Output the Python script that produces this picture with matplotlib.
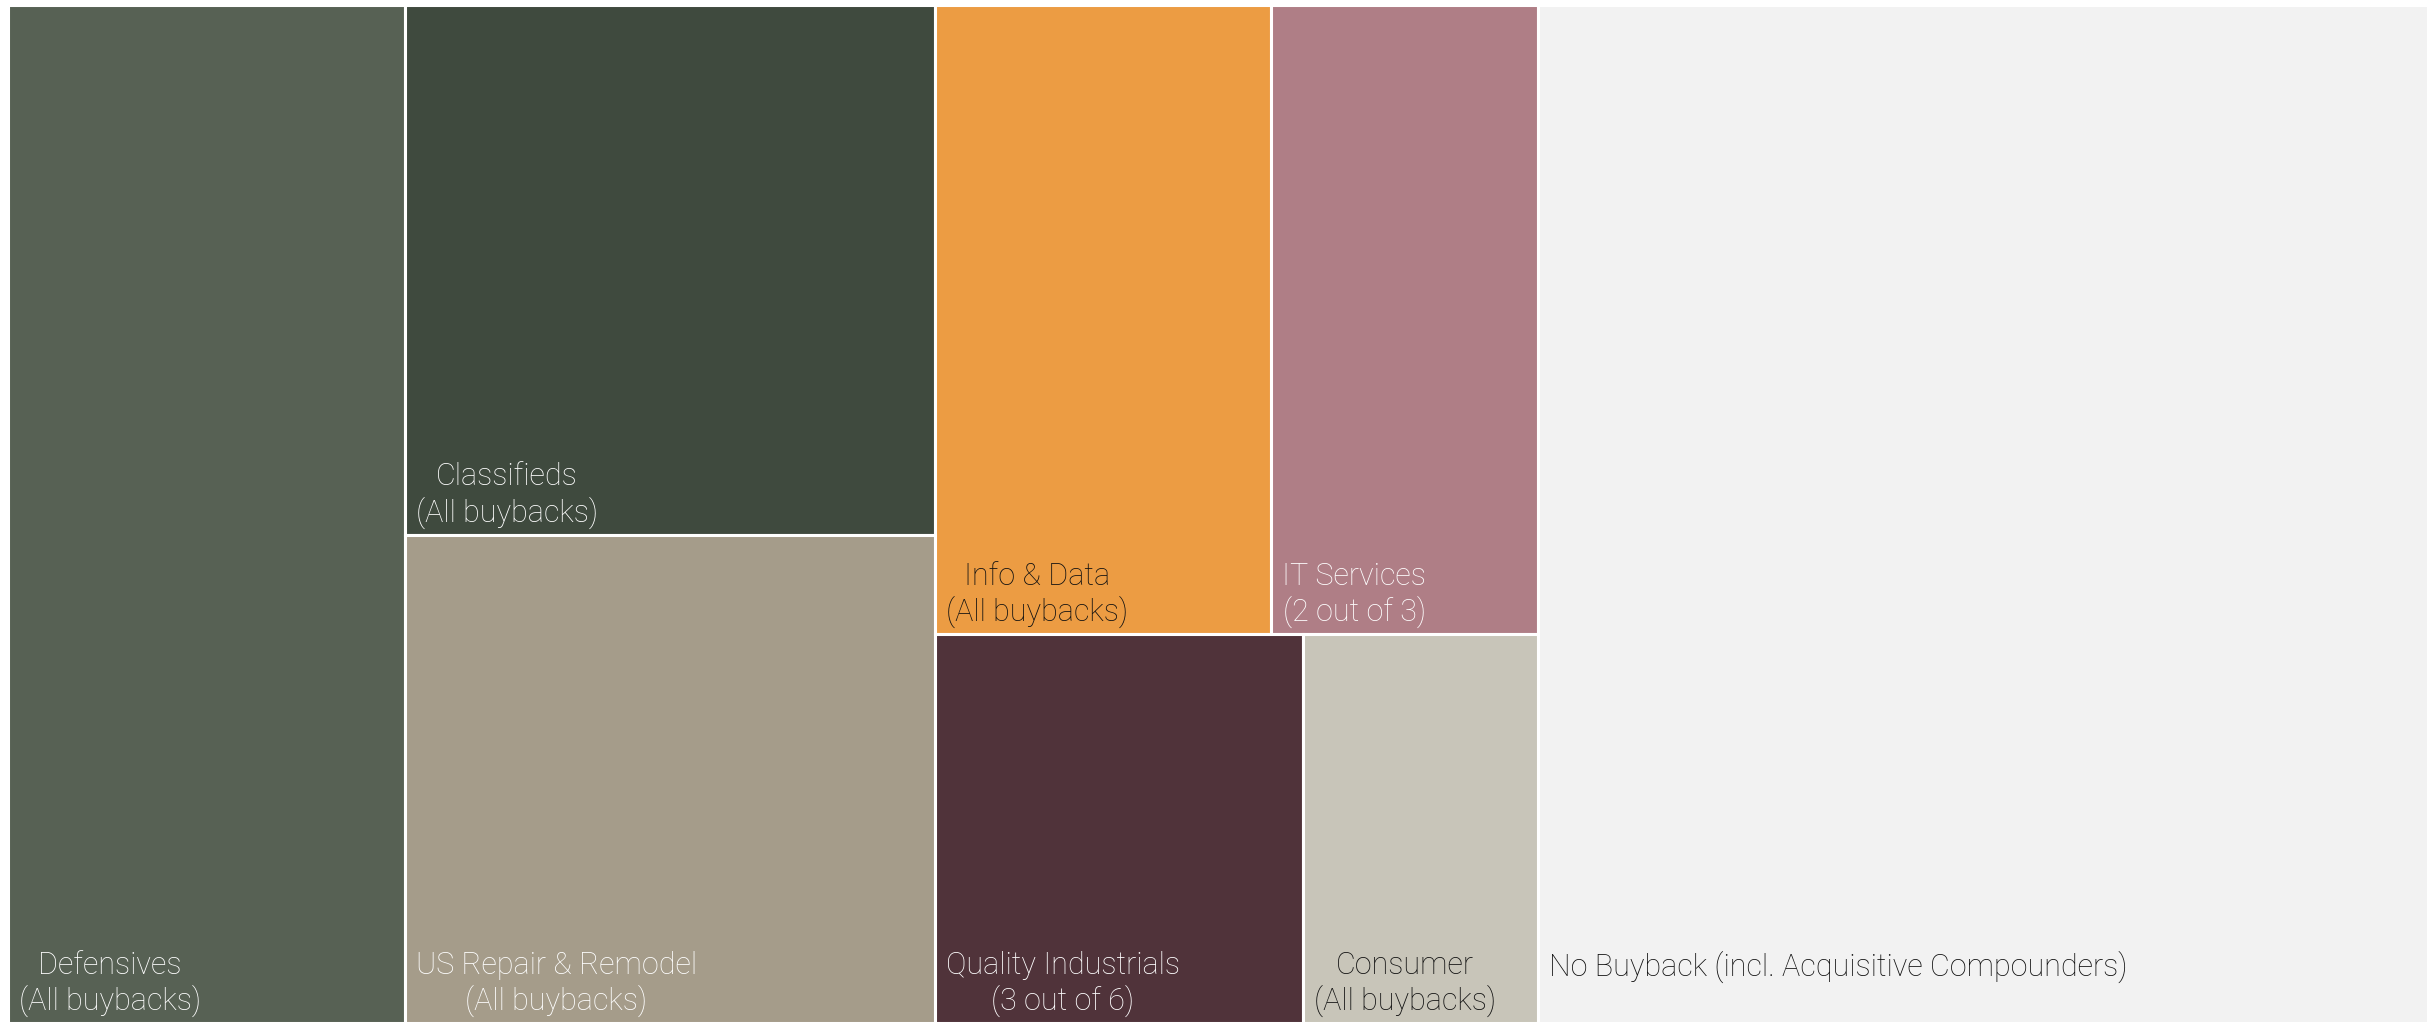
import matplotlib.pyplot as plt
from matplotlib.patches import Rectangle

# DATA (share of total)
labels = ['Defensives\n(All buybacks)',
          'Classifieds\n(All buybacks)',
          'US Repair & Remodel\n(All buybacks)',
          'Info & Data\n(All buybacks)',
          'IT Services\n(2 out of 3)',
          'Quality Industrials\n(3 out of 6)',
          'Consumer\n(All buybacks)',
          'No Buyback (incl. Acquisitive Compounders)']
values = [16.4, 11.4, 10.5, 8.6, 6.8, 5.8, 3.7, 36.8]

# LAYOUT: columns -> rows -> tiles (indices into the lists above)
groups = [[[0]],
          [[1], [2]],
          [[3, 4], [5, 6]],
          [[7]]]

colors = ['#576154', '#3f4a3e', '#a59c8a', '#ec9c43',
          '#af7e86', '#50333a', '#c8c5b9', '#f2f2f2']
text_colors = ['white', 'white', 'white', '#111111',
               'white', 'white', '#111111', '#111111']

plt.rcParams['font.family'] = ['Roboto', 'DejaVu Sans']

fig = plt.figure(figsize=(24.31, 10.23), dpi=100)
ax = fig.add_axes([7.5 / 2431, 0, 2421 / 2431, 1018.5 / 1023])
ax.set_xlim(0, 1)
ax.set_ylim(1, 0)
ax.axis('off')

total = sum(values)
x = 0.0
for col in groups:
    col_sum = sum(values[i] for row in col for i in row)
    w_col = col_sum / total
    y = 0.0
    for row in col:
        row_sum = sum(values[i] for i in row)
        h_row = row_sum / col_sum
        xx = x
        for i in row:
            w = w_col * values[i] / row_sum
            ax.add_patch(Rectangle((xx, y), w, h_row, facecolor=colors[i],
                                   edgecolor='white', linewidth=2.2))
            # label sits near the bottom-left corner of its tile
            ax.annotate(labels[i], xy=(xx, y + h_row), xytext=(8, 52),
                        textcoords='offset points', ha='left', va='top',
                        multialignment='center', fontsize=22,
                        fontweight='light', color=text_colors[i],
                        linespacing=1.2)
            xx += w
        y += h_row
    x += w_col

fig.savefig('out.png', dpi=100, facecolor='white')
